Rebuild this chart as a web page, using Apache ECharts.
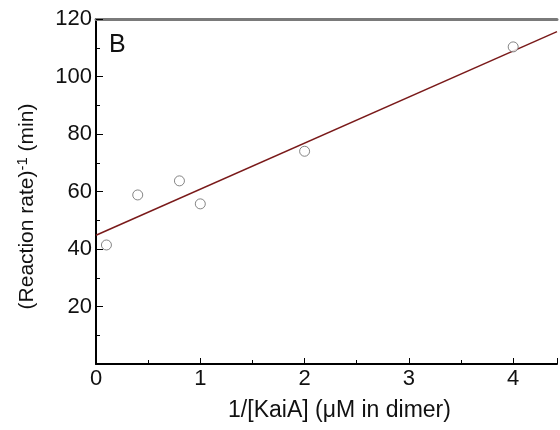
<!DOCTYPE html>
<html><head><meta charset="utf-8">
<script src="https://cdn.jsdelivr.net/npm/echarts@6/dist/echarts.min.js"></script>
<style>html,body{margin:0;padding:0;background:#fff}#c{width:560px;height:430px}</style>
</head><body><div id="c"></div>
<script>
const xValues = [0.1, 0.4, 0.8, 1.0, 2.0, 4.0];
const yValues = [41.4, 58.8, 63.7, 55.7, 74.0, 110.3];
const fitX = [0, 4.42];
const fitY = [44.8, 115.6];
const xTicks = [0, 1, 2, 3, 4];
const yTicks = [20, 40, 60, 80, 100, 120];

const chart = echarts.init(document.getElementById('c'));
const font = 'Liberation Sans, Arial, sans-serif';
chart.setOption({
  animation: false,
  grid: { left: 96, top: 19, right: 0, bottom: 66 },
  xAxis: [{
    type: 'value', min: 0, max: 4.42, interval: 1,
    axisLine: { lineStyle: { color: '#000', width: 2 } },
    axisTick: { inside: true, length: 6, lineStyle: { color: '#000' } },
    minorTick: { show: true, splitNumber: 2, length: 4, lineStyle: { color: '#000' } },
    splitLine: { show: false },
    axisLabel: { color: '#111', fontSize: 22, fontFamily: font, margin: 4,
      formatter: v => xTicks.includes(v) ? String(v) : '' },
    name: '1/[KaiA] (\u03bcM in dimer)', nameLocation: 'middle', nameGap: 35,
    nameTextStyle: { color: '#111', fontSize: 23, fontFamily: font, padding: [0, 0, 0, 26] }
  }, {
    type: 'value', position: 'top', min: 0, max: 4.42,
    axisLine: { show: true, onZero: false, lineStyle: { color: '#7a7a7a', width: 3 } },
    axisTick: { show: false }, axisLabel: { show: false }, splitLine: { show: false }
  }],
  yAxis: {
    type: 'value', min: 0, max: 120, interval: 20,
    axisLine: { show: true, lineStyle: { color: '#000', width: 2 } },
    axisTick: { show: true, inside: true, length: 7, lineStyle: { color: '#000' } },
    minorTick: { show: true, splitNumber: 2, length: 4, lineStyle: { color: '#000' } },
    splitLine: { show: false },
    axisLabel: { color: '#111', fontSize: 22, fontFamily: font, margin: 4,
      formatter: v => yTicks.includes(v) ? String(v) : '' },
    name: '(Reaction rate){sup|-1} (min)', nameLocation: 'middle', nameGap: 56, nameRotate: 90,
    nameTextStyle: { color: '#111', fontSize: 21, fontFamily: font, padding: [0, 30, 0, 0],
      rich: { sup: { fontSize: 15, fontFamily: font, color: '#111', verticalAlign: 'top', padding: [0, 0, 10, 0] } } }
  },
  graphic: [{ type: 'text', left: 109, top: 33, style: { text: 'B', fontSize: 25, fontFamily: font, fill: '#111' } }],
  series: [{
    type: 'line', data: fitX.map((x, i) => [x, fitY[i]]), symbol: 'none',
    lineStyle: { color: '#7a1a1a', width: 1.5 }, z: 2
  }, {
    type: 'scatter', data: xValues.map((x, i) => [x, yValues[i]]),
    symbol: 'circle', symbolSize: 10,
    itemStyle: { color: '#fff', borderColor: '#666', borderWidth: 1 }, z: 3
  }]
});
</script></body></html>
